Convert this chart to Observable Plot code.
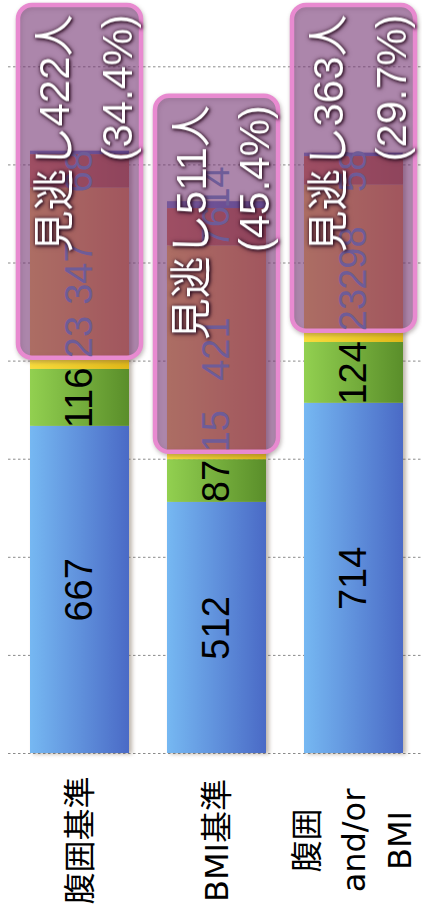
<!DOCTYPE html>
<html><head><meta charset="utf-8">
<script src="https://cdn.jsdelivr.net/npm/d3@7"></script>
<script src="https://cdn.jsdelivr.net/npm/@observablehq/plot@0.6"></script>
<style>
body{margin:0;background:#fff;}
#chart svg{display:block;}
</style></head><body><div id="chart"></div>
<script>
// ---- data ----
const categories = ["腹囲基準", "BMI基準", "腹囲\nand/or\nBMI"];
const seriesNames = ["blue", "green", "yellow", "orange", "dark", "purple"];
const blueValues = [667, 512, 714];
const greenValues = [116, 87, 124];
const yellowValues = [23, 15, 23];
const orangeValues = [347, 421, 298];
const darkValues = [68, 76, 58];
const purpleValues = [7, 14, 7];
const missedCounts = [422, 511, 363];
const missedPct = ["34.4", "45.4", "29.7"];
const gridTicks = [0, 200, 400, 600, 800, 1000, 1200, 1400];

// ---- styling constants ----
const Y_MAX = 1525;
const CALLOUT_SPAN = 726;
const NUM_FONT = "'Liberation Sans', 'Noto Sans CJK JP', sans-serif";
const CAT_FONT = "'DejaVu Sans', 'Noto Sans CJK JP', sans-serif";
const gradients = {
  blue: ["#76b8f2", "#4a6ac6"],
  green: ["#92d050", "#5a8e2a"],
  yellow: ["#f8dc3c", "#e0b818"],
  orange: ["#ffc24e", "#e4873f"],
  dark: ["#dd754d", "#b75b3b"],
  purple: ["#798cd2", "#4d68bc"]
};

const seriesValues = [blueValues, greenValues, yellowValues, orangeValues, darkValues, purpleValues];
const rows = [];
categories.forEach((c, i) => {
  let acc = 0;
  seriesNames.forEach((s, j) => {
    const v = seriesValues[j][i];
    rows.push({cat: c, series: s, value: v, y1: acc, y2: acc + v});
    acc += v;
  });
});
const boxes = categories.map((c, i) => {
  const base = rows.find(r => r.cat === c && r.series === "yellow").y2;
  return {cat: c, y1: base, y2: Math.min(base + CALLOUT_SPAN, Y_MAX),
    label: `見逃し${missedCounts[i]}人\n(${missedPct[i]}%)`};
});

const defsMark = () => {
  const defs = d3.create("svg:defs");
  for (const [name, [c0, c1]] of Object.entries(gradients)) {
    const g = defs.append("linearGradient").attr("id", "grad-" + name)
      .attr("x1", 0).attr("x2", 1).attr("y1", 0).attr("y2", 0);
    g.append("stop").attr("offset", "0%").attr("stop-color", c0);
    g.append("stop").attr("offset", "100%").attr("stop-color", c1);
  }
  return defs.node();
};

const labelOpts = {x: "cat", rotate: -90, fontSize: 38, fontFamily: NUM_FONT};

const plot = Plot.plot({
  width: 422, height: 915,
  marginLeft: 10, marginRight: 0, marginTop: 5, marginBottom: 162,
  x: {domain: categories, paddingInner: 0.28, paddingOuter: 0.14, axis: null},
  y: {domain: [0, Y_MAX], axis: null},
  color: {type: "ordinal", domain: seriesNames, range: seriesNames.map(s => `url(#grad-${s})`)},
  style: {background: "#fff"},
  marks: [
    defsMark,
    Plot.ruleY(gridTicks, {stroke: "#8a8a8a", strokeDasharray: "2.5,2.5", insetLeft: -2}),
    Plot.barY(rows, {x: "cat", y1: "y1", y2: "y2", fill: "series"}),
    Plot.barY(boxes, {x: "cat", y1: "y1", y2: "y2", fill: "#7a327c", fillOpacity: 0.5,
      stroke: "#e88ad0", strokeWidth: 4.5, rx: 14, insetLeft: -12, insetRight: -12}),
    Plot.text(rows.filter(r => r.series === "blue" || r.series === "green"),
      {...labelOpts, y: r => (r.y1 + r.y2) / 2, text: r => String(r.value), fill: "#000"}),
    Plot.text(rows.filter(r => r.series === "orange" || r.series === "dark"),
      {...labelOpts, y: r => (r.y1 + r.y2) / 2, text: r => String(r.value), fill: "#6e5c98"}),
    Plot.text(rows.filter(r => r.series === "yellow"),
      {...labelOpts, y: "y2", textAnchor: "start", text: r => String(r.value), fill: "#6e5c98"}),
    Plot.text(rows.filter(r => r.series === "purple" && r.value >= 10),
      {...labelOpts, y: "y1", textAnchor: "start", text: r => String(r.value), fill: "#6e5c98"}),
    Plot.text(boxes, {x: "cat", y: "y2", text: "label", rotate: -90, textAnchor: "end", lineAnchor: "middle", dy: 9,
      fontSize: 42, fontFamily: NUM_FONT, fill: "#fff", lineHeight: 1.52}),
    Plot.text(categories, {x: d => d, text: d => d, frameAnchor: "bottom", dy: 87, dx: -4, rotate: -90,
      textAnchor: "middle", lineAnchor: "middle",
      fontSize: 32, fontFamily: CAT_FONT, lineHeight: 1.45, fill: "#000"})
  ]
});

const bars = plot.querySelectorAll('g[aria-label="bar"]');
if (bars[0]) bars[0].setAttribute("style", "filter: drop-shadow(3px 1px 2px rgba(110,90,70,0.45))");
if (bars[1]) bars[1].setAttribute("style", "filter: drop-shadow(1px 2px 2px rgba(90,70,70,0.4))");
const texts = plot.querySelectorAll('g[aria-label="text"]');
if (texts[4]) texts[4].setAttribute("style", "filter: drop-shadow(1px 1px 1.5px rgba(40,10,30,0.95)) drop-shadow(0 0 2px rgba(40,10,30,0.7))");
document.getElementById("chart").append(plot);
</script></body></html>
